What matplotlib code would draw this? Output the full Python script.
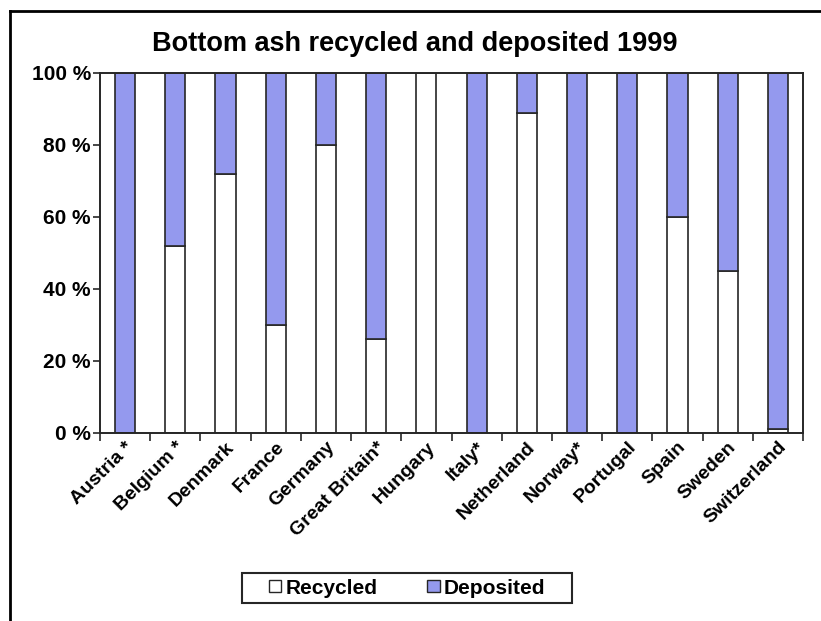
import matplotlib
matplotlib.use("Agg")
import matplotlib.pyplot as plt
from matplotlib.lines import Line2D
from matplotlib.patches import Rectangle
import numpy as np

plt.rcParams['font.family'] = ['Liberation Sans', 'DejaVu Sans']
plt.rcParams['font.weight'] = 'bold'

countries = ["Austria *", "Belgium *", "Denmark", "France", "Germany",
             "Great Britain*", "Hungary", "Italy*", "Netherland", "Norway*",
             "Portugal", "Spain", "Sweden", "Switzerland"]
recycled = [0, 52, 72, 30, 80, 26, 100, 0, 89, 0, 0, 60, 45, 1]
deposited = [100 - r for r in recycled]
yticks = [0, 20, 40, 60, 80, 100]

blue = "#9499EE"
edge = "#262626"

fig = plt.figure(figsize=(8.21, 6.21), dpi=100)
ax = fig.add_axes([100 / 821, 1 - 433 / 621, 703 / 821, 360 / 621])

x = np.arange(len(countries))
ax.bar(x, recycled, width=0.4, color="white", edgecolor=edge, linewidth=1.2)
ax.bar(x, deposited, width=0.4, bottom=recycled, color=blue,
       edgecolor=edge, linewidth=1.2)

ax.set_xlim(-0.5, len(countries) - 0.5)
ax.set_ylim(0, 100)
ax.set_yticks(yticks)
ax.set_yticklabels([f"{v} %" for v in yticks], fontsize=15, fontweight="bold")
ax.tick_params(axis="y", length=5, width=1.2, direction="out", pad=1.5,
               color=edge)

ax.set_xticks(x)
ax.set_xticklabels(countries, rotation=45, ha="right", va="top",
                   rotation_mode="anchor", fontsize=14, fontweight="bold")
ax.tick_params(axis="x", which="major", length=0, pad=4)
ax.set_xticks(np.arange(len(countries) + 1) - 0.5, minor=True)
ax.tick_params(axis="x", which="minor", length=6, width=1.2,
               direction="out", color=edge)

for s in ax.spines.values():
    s.set_linewidth(1.4)
    s.set_color(edge)

fig.text(415 / 821, 1 - 44 / 621, "Bottom ash recycled and deposited 1999",
         ha="center", va="center", fontsize=19.5, fontweight="bold")

handles = [Rectangle((0, 0), 1, 1, facecolor="white", edgecolor=edge),
           Rectangle((0, 0), 1, 1, facecolor=blue, edgecolor=edge)]
leg = fig.legend(handles, ["Recycled", "Deposited"], loc="center",
                 bbox_to_anchor=(407 / 821, 1 - 588 / 621), ncol=2,
                 frameon=False, fontsize=15,
                 handlelength=0.6, handleheight=0.5, handletextpad=0.2,
                 columnspacing=2.4, borderpad=0.2)
for t in leg.get_texts():
    t.set_fontweight("bold")
fig.add_artist(Rectangle((242 / 821, 1 - 603 / 621), 330 / 821, 30 / 621,
                         transform=fig.transFigure, fill=False,
                         edgecolor=edge, linewidth=1.5))

# partial outer border (top and left edges)
fig.add_artist(Line2D([10 / 821, 10 / 821], [0, 1 - 11 / 621],
                      transform=fig.transFigure, color="black", linewidth=2))
fig.add_artist(Line2D([10 / 821, 1], [1 - 11 / 621, 1 - 11 / 621],
                      transform=fig.transFigure, color="black", linewidth=2))

fig.savefig("out.png", dpi=100)
